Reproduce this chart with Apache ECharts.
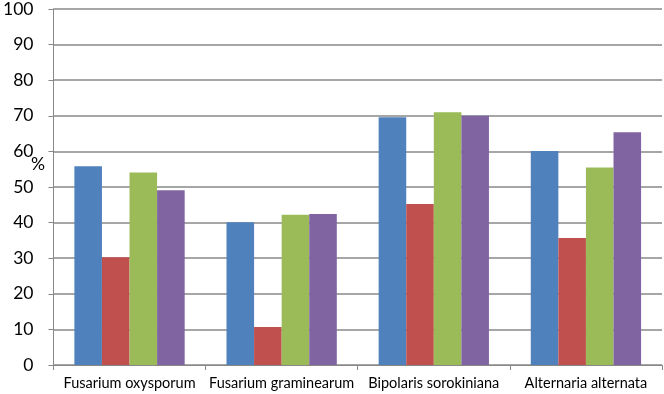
<!DOCTYPE html>
<html>
<head>
<meta charset="utf-8">
<script src="https://cdn.jsdelivr.net/npm/echarts@6/dist/echarts.min.js"></script>
<style>
  html, body { margin: 0; padding: 0; background: #fff; }
  #chart { width: 664px; height: 394px; }
</style>
</head>
<body>
<div id="chart"></div>
<script>
const categories = ['Fusarium oxysporum', 'Fusarium graminearum', 'Bipolaris sorokiniana', 'Alternaria alternata']
const series1 = [55.8, 40.1, 69.6, 60.1]
const series2 = [30.3, 10.7, 45.2, 35.7]
const series3 = [54.1, 42.2, 71.0, 55.5]
const series4 = [49.1, 42.4, 70.0, 65.4]
const colors = ['#4F81BD', '#C0504D', '#9BBB59', '#8064A2']

const chart = echarts.init(document.getElementById('chart'))

const font = 'Lato, "Open Sans", sans-serif'
const gridColor = '#888888'

chart.setOption({
  animation: false,
  textStyle: { fontFamily: font },
  grid: { left: 49, right: 2, top: 7, bottom: 29, containLabel: false },
  xAxis: {
    type: 'category',
    data: categories,
    axisLine: { lineStyle: { color: gridColor, width: 1 } },
    axisTick: { show: true, length: 5, alignWithLabel: false, lineStyle: { color: gridColor } },
    axisLabel: { color: '#000', fontSize: 14.5, margin: 11, interval: 0 }
  },
  yAxis: {
    type: 'value',
    min: 0,
    max: 100,
    interval: 10,
    axisLine: { show: true, lineStyle: { color: gridColor, width: 1 } },
    axisTick: { show: true, length: 5, lineStyle: { color: gridColor } },
    axisLabel: { color: '#000', fontSize: 17.5, margin: 20 },
    splitLine: { lineStyle: { color: gridColor, width: 1.5 } }
  },
  graphic: [{
    type: 'text',
    left: 31,
    top: 155,
    style: { text: '%', fontSize: 17.5, fill: '#000', fontFamily: font }
  }],
  series: [series1, series2, series3, series4].map((d, i) => ({
    type: 'bar',
    data: d,
    barGap: 0,
    barCategoryGap: '27.5%',
    itemStyle: { color: colors[i] }
  }))
})
</script>
</body>
</html>
